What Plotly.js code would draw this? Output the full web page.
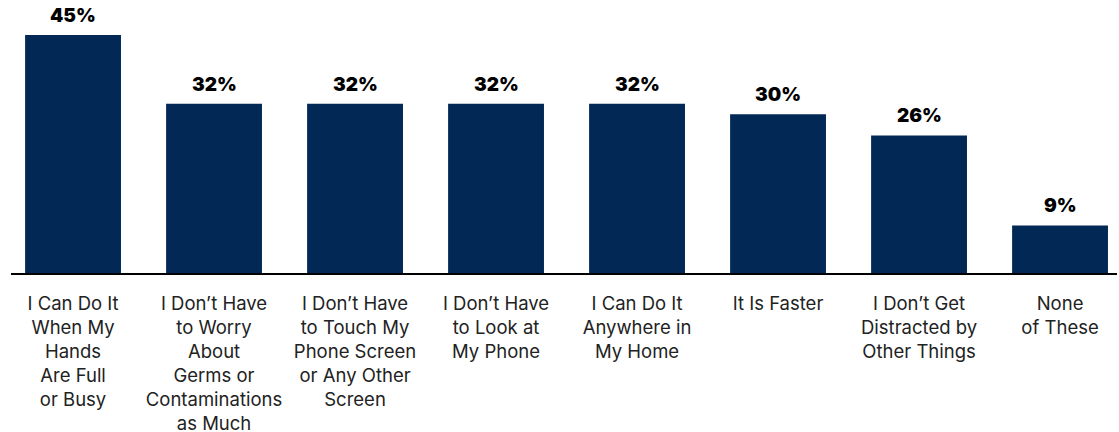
<!DOCTYPE html>
<html>
<head>
<meta charset="utf-8">
<script src="https://cdn.plot.ly/plotly-3.0.1.min.js"></script>
<style>html,body{margin:0;padding:0;background:#fff;}#chart{width:1119px;height:432px;}</style>
</head>
<body>
<div id="chart"></div>
<script>
const categories = [
  "I Can Do It<br>When My<br>Hands<br>Are Full<br>or Busy",
  "I Don’t Have<br>to Worry<br>About<br>Germs or<br>Contaminations<br>as Much",
  "I Don’t Have<br>to Touch My<br>Phone Screen<br>or Any Other<br>Screen",
  "I Don’t Have<br>to Look at<br>My Phone",
  "I Can Do It<br>Anywhere in<br>My Home",
  "It Is Faster",
  "I Don’t Get<br>Distracted by<br>Other Things",
  "None<br>of These"
];
const values = [45, 32, 32, 32, 32, 30, 26, 9];
const valueLabels = values.map(v => v + "%");
const idx = categories.map((c, i) => i);

const trace = {
  type: "bar",
  x: idx,
  y: values,
  marker: {color: "#022856"},
  hoverinfo: "none"
};

const annotations = idx.map(i => ({
  x: i, y: values[i], xref: "x", yref: "y",
  text: valueLabels[i], showarrow: false,
  yanchor: "bottom", yshift: 6,
  font: {family: "Inter, Arial, sans-serif", size: 19, color: "#000", weight: 900}
}));

const layout = {
  width: 1119, height: 432,
  margin: {l: 11, r: 2, t: 0, b: 159},
  paper_bgcolor: "#fff", plot_bgcolor: "#fff",
  bargap: 0.32,
  showlegend: false,
  annotations: annotations,
  xaxis: {
    type: "linear",
    range: [-0.44, 7.404],
    tickmode: "array",
    tickvals: idx,
    ticktext: categories,
    showgrid: false, zeroline: false,
    showline: true, linecolor: "#000", linewidth: 2,
    ticks: "",
    ticklabelstandoff: 13,
    tickfont: {family: "Inter, Arial, sans-serif", size: 18.5, color: "#222"}
  },
  yaxis: {
    range: [0, 51.6],
    visible: false, showgrid: false, zeroline: false, fixedrange: true
  }
};

Plotly.newPlot("chart", [trace], layout, {displayModeBar: false, staticPlot: true});
</script>
</body>
</html>
